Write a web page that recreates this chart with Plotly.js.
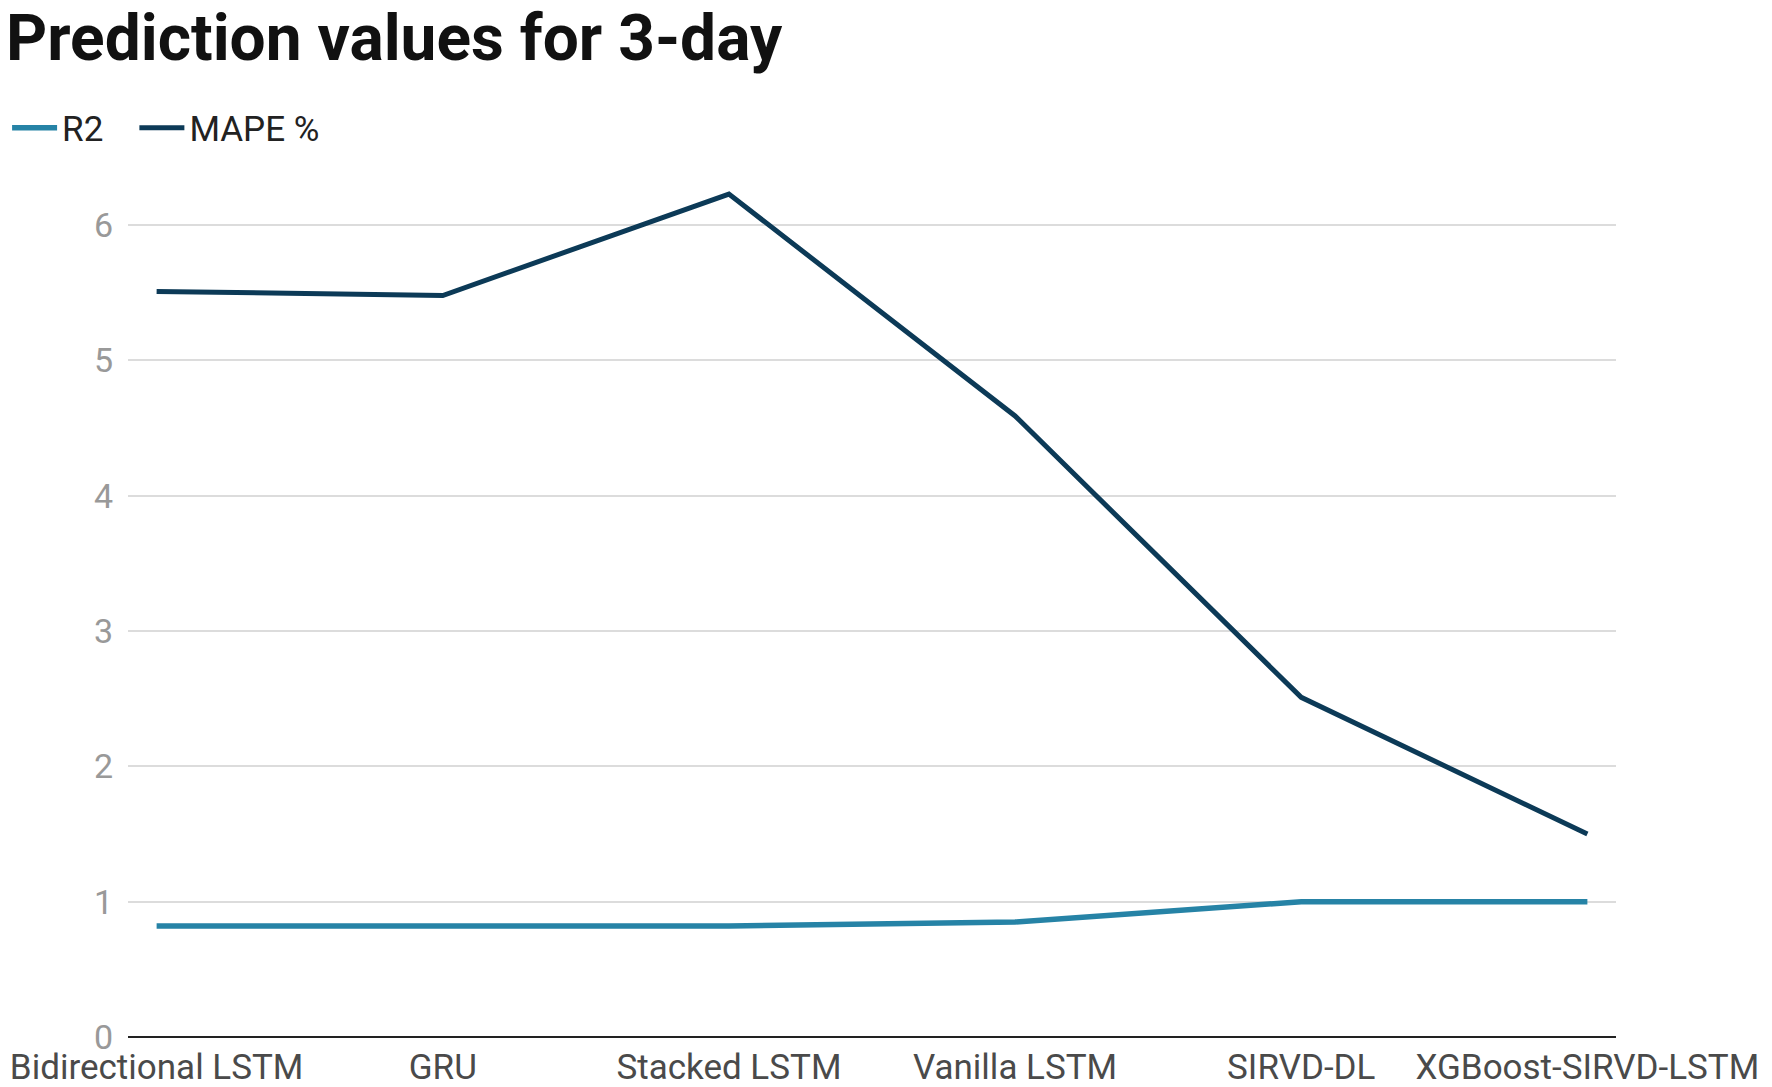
<!DOCTYPE html>
<html>
<head>
<meta charset="utf-8">
<script src="https://cdn.plot.ly/plotly-3.0.1.min.js"></script>
<style>
  html, body { margin: 0; padding: 0; background: #fff; }
  #chart { width: 1772px; height: 1087px; }
</style>
</head>
<body>
<div id="chart"></div>
<script>
// models on the x axis
var models = ['Bidirectional LSTM', 'GRU', 'Stacked LSTM', 'Vanilla LSTM', 'SIRVD-DL', 'XGBoost-SIRVD-LSTM'];
// values
var r2 = [0.82, 0.82, 0.82, 0.85, 1.0, 1.0];
var mape = [5.51, 5.48, 6.23, 4.59, 2.51, 1.50];
var yTicks = [0, 1, 2, 3, 4, 5, 6];

var r2Trace = {
    x: models,
    y: r2,
    name: 'R2\u00a0\u00a0\u00a0',   // padding so the next legend item sits further right
    mode: 'lines',
    line: { color: '#2683a6', width: 5.5 }
};
var mapeTrace = {
    x: models,
    y: mape,
    name: 'MAPE %',
    mode: 'lines',
    line: { color: '#0c3a57', width: 5 }
};

var layout = {
    width: 1772,
    height: 1087,
    margin: { l: 128, r: 156, t: 148, b: 50 },
    paper_bgcolor: '#fff',
    plot_bgcolor: '#fff',
    font: { family: 'Roboto, sans-serif', color: '#222' },
    title: {
        text: '<b>Prediction values for 3-day</b>',
        font: { family: 'Roboto, sans-serif', size: 64, color: '#111' },
        xref: 'container',
        yref: 'container',
        x: 0,
        xanchor: 'left',
        y: 0.986,
        yanchor: 'top',
        pad: { l: 6 }
    },
    showlegend: true,
    legend: {
        orientation: 'h',
        xref: 'container',
        yref: 'container',
        x: 0.004,
        xanchor: 'left',
        y: 1 - 128 / 1087,
        yanchor: 'middle',
        itemwidth: 45,
        font: { size: 35, color: '#222' },
        traceorder: 'normal'
    },
    xaxis: {
        type: 'category',
        range: [-0.1, 5.1],
        showgrid: false,
        zeroline: false,
        showline: false,
        ticks: '',
        tickfont: { size: 35, color: '#4a4a4a' },
        ticklabelstandoff: 6
    },
    yaxis: {
        range: [0, 6.5],
        tickvals: yTicks,
        ticktext: yTicks.map(String),
        showgrid: true,
        gridcolor: '#dcdcdc',
        gridwidth: 2,
        zeroline: true,
        zerolinecolor: '#222',
        zerolinewidth: 2.5,
        showline: false,
        ticks: '',
        tickfont: { size: 34, color: '#999' },
        ticklabelstandoff: 14
    }
};

Plotly.newPlot('chart', [r2Trace, mapeTrace], layout, { displayModeBar: false, staticPlot: true });
</script>
</body>
</html>
